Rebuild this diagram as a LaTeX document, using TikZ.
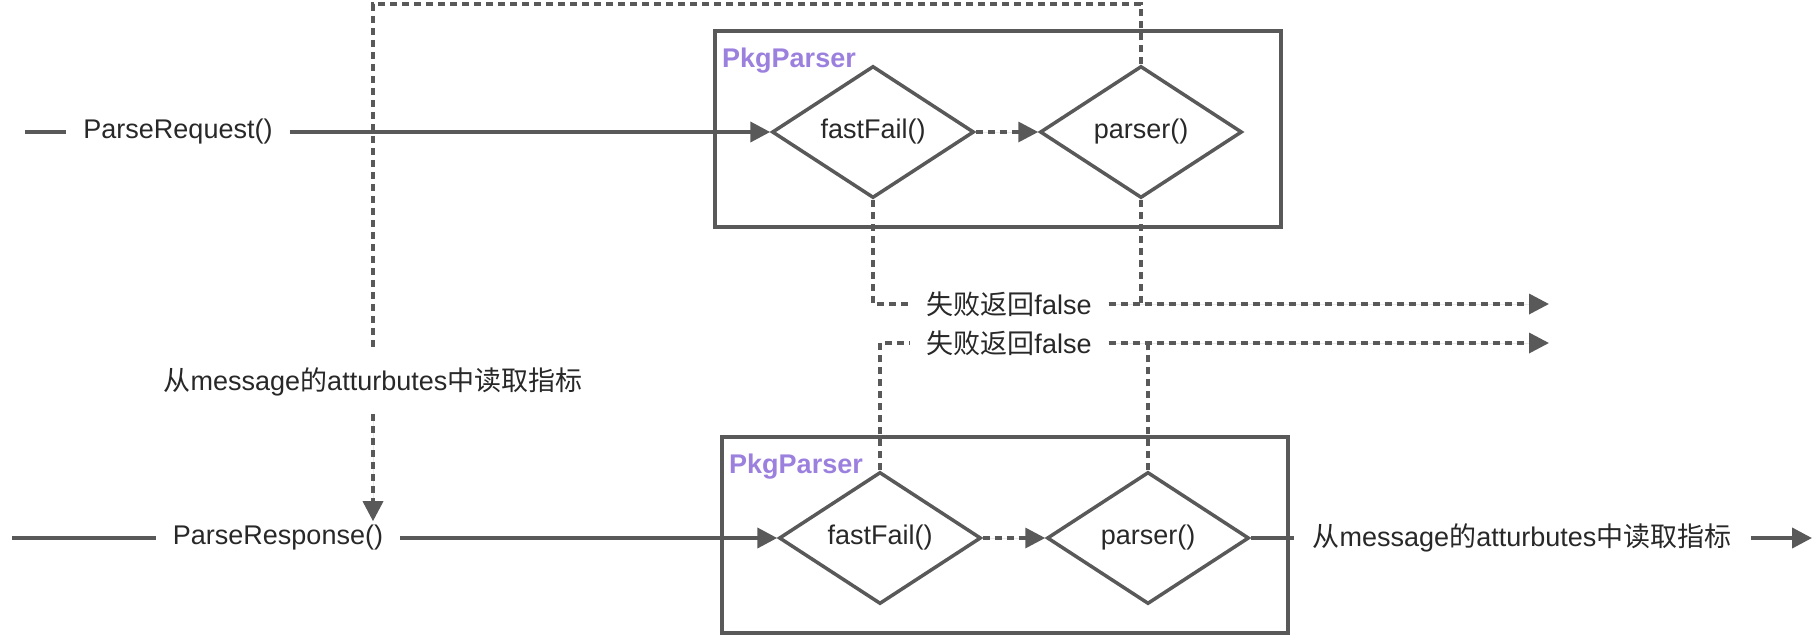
\documentclass[tikz,border=0pt]{standalone}
\usepackage{fontspec}
\setmainfont{Liberation Sans}
\newfontfamily\cjk{Noto Sans CJK SC}
\usepackage{tikz}
\usetikzlibrary{shapes.geometric, arrows.meta, positioning}
\definecolor{linegray}{RGB}{89,89,89}
\definecolor{textgray}{RGB}{40,40,40}
\definecolor{tagpurple}{RGB}{155,128,222}
\newcommand{\zh}[1]{{\cjk #1}}

\begin{document}
\begin{tikzpicture}[
    x=1pt, y=-1pt,
    font=\fontsize{27}{32}\selectfont,
    pkgbox/.style={draw=linegray, line width=4pt, minimum width=566pt, minimum height=196pt, inner sep=0pt},
    pkgtag/.style={font=\fontsize{27}{32}\selectfont\bfseries, text=tagpurple, inner sep=0pt},
    stepdiamond/.style={draw=linegray, line width=3.5pt, diamond, aspect=1.5, inner sep=0pt, minimum width=202pt, minimum height=132pt, text=textgray},
    txtlabel/.style={fill=white, text=textgray, inner xsep=17pt, inner ysep=4pt},
    flowline/.style={draw=linegray, line width=4pt},
    dashline/.style={draw=linegray, line width=3.5pt, dash pattern=on 7pt off 5pt},
    fillhead/.style={-{Triangle[length=20pt, width=20pt]}, fill=linegray}
]
    \useasboundingbox (0,0) rectangle (1819,640);

    % PkgParser boxes
    \node[pkgbox] (reqbox) at (998,129) {};
    \node[pkgtag, anchor=west] (reqtag) at (722,61) {PkgParser};
    \node[pkgbox] (respbox) at (1005,535) {};
    \node[pkgtag, anchor=west] (resptag) at (729,467) {PkgParser};

    % Steps
    \node[stepdiamond] (ffreq) at (873,132) {fastFail()};
    \node[stepdiamond] (psreq) at (1141,132) {parser()};
    \node[stepdiamond] (ffresp) at (880,538) {fastFail()};
    \node[stepdiamond] (psresp) at (1148,538) {parser()};

    % Texts
    \node[txtlabel] (reqname) at (178,132) {ParseRequest()};
    \node[txtlabel] (respname) at (278,538) {ParseResponse()};
    \node[txtlabel, inner ysep=18pt] (readattr) at (373,382) {\zh{从}message\zh{的}atturbutes\zh{中读取指标}};
    \node[txtlabel] (failreq) at (1009,304) {\zh{失败返回}false};
    \node[txtlabel] (failresp) at (1009,343) {\zh{失败返回}false};
    \node[txtlabel, inner xsep=19pt] (outattr) at (1522,538) {\zh{从}message\zh{的}atturbutes\zh{中读取指标}};

    \coordinate (reqin) at (25,132);
    \coordinate (respin) at (12,538);
    \coordinate (loopcorner) at (373,4);
    \coordinate (failreqend) at (1549,304);
    \coordinate (failrespend) at (1549,343);
    \coordinate (outend) at (1812,538);

    % Main flow
    \draw[flowline] (reqin) -- (reqname);
    \draw[flowline, fillhead] (reqname) -- (ffreq);
    \draw[flowline] (respin) -- (respname);
    \draw[flowline, fillhead] (respname) -- (ffresp);
    \draw[flowline] (psresp) -- (outattr);
    \draw[flowline, fillhead] (outattr) -- (outend);

    % Dashed links
    \draw[dashline, fillhead] (ffreq) -- (psreq);
    \draw[dashline, fillhead] (ffresp) -- (psresp);
    \draw[dashline] (psreq.north) |- (loopcorner) -- (readattr.north);
    \draw[dashline, fillhead] (readattr.south) -- (respname.north -| readattr.south);

    % Failure exits
    \draw[dashline] (ffreq.south) |- (failreq.west);
    \draw[dashline, fillhead] (failreq.east) -- (failreqend);
    \draw[dashline] (psreq.south) -- (psreq.south |- failreq);
    \draw[dashline] (ffresp.north) |- (failresp.west);
    \draw[dashline, fillhead] (failresp.east) -- (failrespend);
    \draw[dashline] (psresp.north) -- (psresp.north |- failresp);
\end{tikzpicture}
\end{document}
